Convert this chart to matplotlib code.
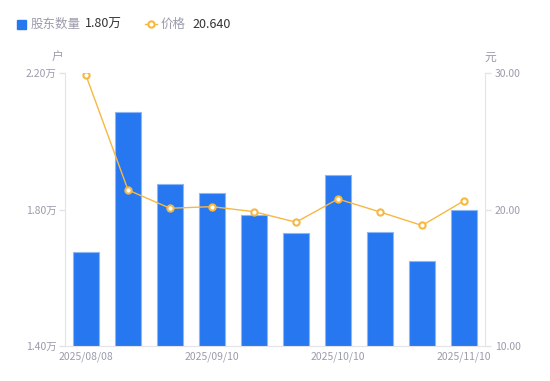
import numpy as np
import matplotlib.pyplot as plt
from matplotlib.lines import Line2D

plt.rcParams['font.family'] = ['Noto Sans CJK SC', 'DejaVu Sans']

# data
dates = ['2025/08/08', '2025/08/20', '2025/08/29', '2025/09/10', '2025/09/19',
         '2025/09/30', '2025/10/10', '2025/10/20', '2025/10/31', '2025/11/10']
holders = [1.675, 2.086, 1.875, 1.848, 1.784, 1.731, 1.901, 1.734, 1.649, 1.800]  # 万户
price = [29.82, 21.43, 20.09, 20.21, 19.84, 19.07, 20.77, 19.82, 18.83, 20.64]
show_labels = [0, 3, 6, 9]

BLUE = '#2677F0'
ORANGE = '#F7B843'
GREY = '#9A9CAB'
AXIS = '#E3E3E8'

DPI = 100
fig = plt.figure(figsize=(550/DPI, 381/DPI), dpi=DPI)
ax = fig.add_axes([65/550, 35/381, 420/550, 273/381])
ax2 = ax.twinx()

x = np.arange(len(dates))
ax.bar(x, holders, width=0.6, color=BLUE, edgecolor='#8DB6F7', linewidth=0.8, zorder=2)
ax.set_xlim(-0.5, len(dates) - 0.5)
ax.set_ylim(1.40, 2.20)
ax.set_yticks([1.40, 1.80, 2.20])
ax.set_yticklabels([f'{v:.2f}万' for v in [1.40, 1.80, 2.20]])
ax.set_xticks([x[i] for i in show_labels])
ax.set_xticklabels([dates[i] for i in show_labels])

marker_style = dict(marker='o', markersize=4.5, markerfacecolor='white',
                    markeredgecolor=ORANGE, markeredgewidth=1.5)
ax2.plot(x, price, color=ORANGE, linewidth=1, zorder=3, **marker_style)
ax2.set_ylim(10, 30)
ax2.set_yticks([10, 20, 30])
ax2.set_yticklabels([f'{v:.2f}' for v in [10, 20, 30]])

for a in (ax, ax2):
    for s in a.spines.values():
        s.set_visible(False)
    a.tick_params(colors=AXIS, labelcolor=GREY, labelsize=7.5, length=4, width=1)
for a, side in ((ax, 'left'), (ax, 'bottom'), (ax2, 'right')):
    a.spines[side].set_visible(True)
    a.spines[side].set_color(AXIS)
ax.tick_params(axis='x', length=0, pad=4)
ax.tick_params(axis='y', pad=2)
ax2.tick_params(axis='y', pad=3)

# unit labels
fig.text(58/550, 1 - 57/381, '户', color=GREY, fontsize=8.5, ha='center', va='center')
fig.text(490/550, 1 - 57/381, '元', color=GREY, fontsize=8.5, ha='center', va='center')

# legend row (latest values)
ly = 1 - 24/381
fig.patches.append(plt.Rectangle((17/550, 1 - 29/381), 9/550, 9/381,
                                 transform=fig.transFigure, color=BLUE, figure=fig))
fig.text(31/550, ly, '股东数量', color=GREY, fontsize=9, va='center')
fig.text(85/550, ly, f'{holders[-1]:.2f}万', color='#333333', fontsize=9, va='center')
fig.lines.append(Line2D([145/550, 151/550, 157/550], [ly] * 3, transform=fig.transFigure,
                        color=ORANGE, linewidth=1, markevery=[1], figure=fig, **marker_style))
fig.text(161/550, ly, '价格', color=GREY, fontsize=9, va='center')
fig.text(192/550, ly, f'{price[-1]:.3f}', color='#333333', fontsize=9, va='center')

plt.savefig('out.png', dpi=DPI)
